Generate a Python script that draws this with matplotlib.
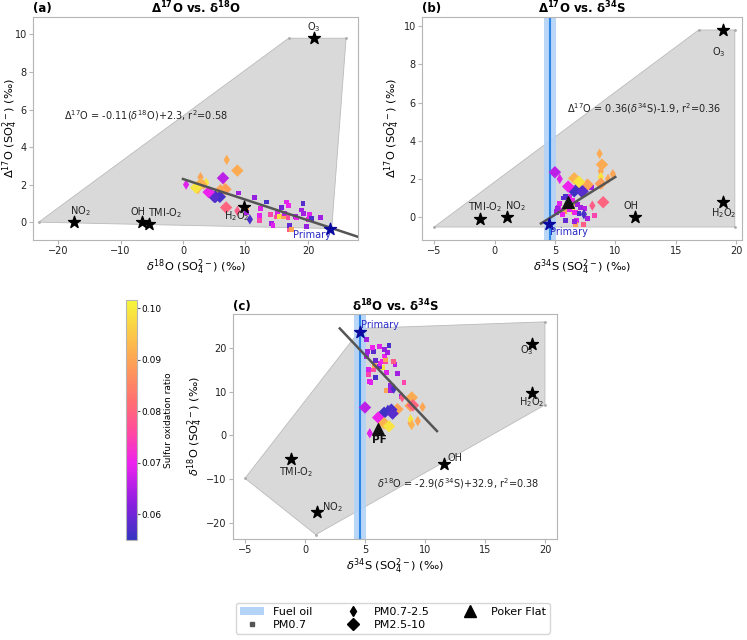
import numpy as np
import matplotlib.pyplot as plt
from matplotlib.colors import LinearSegmentedColormap
from matplotlib.lines import Line2D
from matplotlib.patches import Patch

# PM0.7 samples (squares)
pm07_d34s = [8.0, 6.75, 7.1, 7.1, 5.5, 8.25, 5.4, 5.9, 5.3, 7.7, 6.8, 5.7, 5.3, 6.5, 6.2, 5.8, 7.5,
             6.25, 6.45, 6.7, 7.35, 5.9, 6.7, 5.1, 6.6, 6.9, 5.7, 5.2, 6.6, 5.6, 6.2, 7.0, 5.1]
pm07_d18o = [8.9, 10.2, 10.2, 11.5, 12.2, 12.2, 12.4, 13.3, 14.0, 14.1, 14.4, 15.0, 15.1, 15.5, 15.7, 16.1, 16.3,
             16.5, 16.9, 16.8, 17.0, 17.1, 17.3, 18.0, 18.2, 19.0, 19.2, 19.3, 19.7, 20.1, 20.3, 20.5, 22.0]
pm07_d17o = [1.55, 0.72, 0.50, 1.31, 0.36, 0.10, 0.72, 1.07, 0.43, -0.07, -0.19, 0.28, 0.50, 0.31, 0.77, 0.31, 0.47,
             1.07, 0.90, 0.25, -0.39, -0.19, -0.37, 0.30, 0.22, 0.65, 1.00, 0.48, -0.22, 0.15, 0.40, 0.20, 0.25]
pm07_sor = [0.064, 0.090, 0.064, 0.063, 0.069, 0.075, 0.069, 0.057, 0.075, 0.064, 0.069, 0.076, 0.068, 0.099, 0.060,
            0.090, 0.066, 0.069, 0.070, 0.076, 0.079, 0.059, 0.090, 0.064, 0.070, 0.064, 0.058, 0.064, 0.063, 0.070,
            0.069, 0.057, 0.064]

# PM0.7-2.5 samples (thin diamonds)
pm25_d34s = [8.7, 8.8, 8.8, 9.4, 8.9, 5.4, 8.1, 9.8, 7.4, 6.9]
pm25_d18o = [7.0, 2.8, 3.7, 3.3, 2.4, 0.5, 8.7, 6.5, 10.7, 5.9]
pm25_d17o = [3.32, 2.40, 2.10, 2.00, 1.75, 2.00, 0.60, 2.25, 0.15, 1.66]
pm25_sor = [0.091, 0.090, 0.099, 0.090, 0.092, 0.069, 0.079, 0.090, 0.057, 0.057]

# PM2.5-10 samples (diamonds)
pm10_d34s = [5.0, 8.9, 8.8, 9.0, 7.7, 7.2, 6.6, 7.3, 6.1, 6.6, 7.0]
pm10_d18o = [6.4, 8.7, 6.8, 6.9, 6.0, 5.9, 5.2, 5.0, 4.1, 2.8, 2.1]
pm10_d17o = [2.35, 2.75, 1.75, 0.78, 1.70, 1.35, 1.35, 1.35, 1.60, 2.03, 1.84]
pm10_sor = [0.066, 0.091, 0.089, 0.080, 0.090, 0.057, 0.056, 0.058, 0.070, 0.092, 0.099]

# Poker Flat mean
pf_d34s, pf_d18o, pf_d17o = 6.05, 1.4, 0.8

# oxidant end members
src_names = ['O$_3$', 'H$_2$O$_2$', 'OH', 'NO$_2$', 'TMI-O$_2$']
src_d34s = [18.9, 18.9, 11.6, 1.0, -1.2]
src_d18o = [21.0, 9.8, -6.6, -17.5, -5.5]
src_d17o = [9.8, 0.8, 0.0, 0.0, -0.1]
prim_d34s, prim_d18o, prim_d17o = 4.55, 23.6, -0.35

# fuel oil d34S
fuel_lo, fuel_mid, fuel_hi = 4.1, 4.6, 5.1

# mixing hulls
hull_a_x = [-23.1, 16.9, 26.1, 23.8]
hull_a_y = [0.0, 9.8, 9.8, -0.34]
hull_b_x = [-5.0, 16.9, 19.9, 19.9]
hull_b_y = [-0.52, 9.8, 9.8, -0.52]
hull_c_x = [-5.0, 4.7, 20.0, 20.0, 0.9]
hull_c_y = [-9.8, 24.5, 26.0, 7.0, -22.7]

# regressions (slope, intercept, x range)
fit_a = (-0.11, 2.3, 0.0, 28.0)
fit_b = (0.396, -1.86, 3.85, 10.0)
fit_c = (-2.9, 32.9, 2.9, 11.0)

cmap = LinearSegmentedColormap.from_list(
    'sor', [(0.0, '#3434c0'), (0.15, '#8a20e0'), (0.32, '#ee22ee'), (0.45, '#ff4aa0'),
            (0.58, '#ff7070'), (0.77, '#fdaa52'), (1.0, '#f6f63a')])
vmin, vmax = 0.055, 0.1016

fig = plt.figure(figsize=(7.47, 6.4), dpi=100)
ax_a = fig.add_axes([0.0442, 0.625, 0.435, 0.349])
ax_b = fig.add_axes([0.565, 0.625, 0.4284, 0.349])
ax_c = fig.add_axes([0.3119, 0.1578, 0.4337, 0.3516])
cax = fig.add_axes([0.1687, 0.1562, 0.0147, 0.375])

lab_s = r'$\delta^{34}$S (SO$_4^{2-}$) (‰)'
lab_o18 = r'$\delta^{18}$O (SO$_4^{2-}$) (‰)'
lab_o17 = r'$\Delta^{17}$O (SO$_4^{2-}$) (‰)'
TXT = 7.0


def draw_samples(ax, xs, ys):
    sc = None
    for x, y, c, m, s in [(xs[0], ys[0], pm07_sor, 's', 12),
                          (xs[1], ys[1], pm25_sor, 'd', 28),
                          (xs[2], ys[2], pm10_sor, 'D', 40)]:
        sc = ax.scatter(x, y, c=c, marker=m, s=s, cmap=cmap, vmin=vmin, vmax=vmax,
                        edgecolors='none', zorder=3)
    return sc


def draw_hull(ax, hx, hy):
    ax.fill(hx, hy, facecolor='#d9d9d9', edgecolor='#bbbbbb', lw=0.6, zorder=1)
    ax.plot(hx, hy, ls='none', marker='.', ms=2, color='#aaaaaa', zorder=1)


def draw_sources(ax, xs, ys, px, py, offsets, prim_off):
    for name, x, y, off in zip(src_names, xs, ys, offsets):
        ax.scatter(x, y, marker='*', s=80, color='black', zorder=5)
        ax.annotate(name, (x, y), xytext=off, textcoords='offset pixels',
                    ha='center', va='center', fontsize=TXT, color='#222222', zorder=6)
    ax.scatter(px, py, marker='*', s=80, color='#0a0aa0', zorder=5)
    ax.annotate('Primary', (px, py), xytext=prim_off, textcoords='offset pixels',
                ha='center', va='center', fontsize=TXT, color='#2a2ac8', zorder=6)


def fit_line(ax, fit):
    m, b, x0, x1 = fit
    xx = np.array([x0, x1])
    ax.plot(xx, m * xx + b, color='#555555', lw=1.8, zorder=4)


def style(ax, title, tag, xlabel, ylabel):
    for sp in ax.spines.values():
        sp.set_color('#b5b5b5')
    ax.tick_params(labelsize=7, color='#b5b5b5', labelcolor='#222222', length=3, pad=1.5)
    ax.set_xlabel(xlabel, fontsize=8.2, labelpad=1)
    ax.set_ylabel(ylabel, fontsize=8.2, labelpad=1)
    ax.set_title(title, fontsize=8.5, fontweight='bold', pad=1)
    ax.text(0.0, 1.006, tag, transform=ax.transAxes, fontsize=8.5, fontweight='bold', va='bottom')


# (a) D17O vs d18O
draw_hull(ax_a, hull_a_x, hull_a_y)
draw_samples(ax_a, [pm07_d18o, pm25_d18o, pm10_d18o], [pm07_d17o, pm25_d17o, pm10_d17o])
fit_line(ax_a, fit_a)
draw_sources(ax_a, src_d18o, src_d17o, prim_d18o, prim_d17o,
             [(0, 11), (-8, -9), (-4, 10), (7, 11), (16, 11)], (-19, -6))
ax_a.text(-19, 5.7, r'$\Delta^{17}$O = -0.11($\delta^{18}$O)+2.3, r$^2$=0.58',
          fontsize=TXT, va='center', color='#222222')
ax_a.set_xlim(-24, 28)
ax_a.set_ylim(-0.95, 10.95)
ax_a.set_xticks([-20, -10, 0, 10, 20])
ax_a.set_yticks([0, 2, 4, 6, 8, 10])
style(ax_a, r'$\mathbf{\Delta^{17}O}$ vs. $\mathbf{\delta^{18}O}$', '(a)', lab_o18, lab_o17)
ax_a.yaxis.set_label_coords(-0.04, 0.5)

# (b) D17O vs d34S
draw_hull(ax_b, hull_b_x, hull_b_y)
ax_b.axvspan(fuel_lo, fuel_hi, color='#b3d3f7', alpha=0.9, zorder=2, lw=0)
ax_b.axvline(fuel_mid, color='#2b86e6', lw=1.5, zorder=2)
draw_samples(ax_b, [pm07_d34s, pm25_d34s, pm10_d34s], [pm07_d17o, pm25_d17o, pm10_d17o])
fit_line(ax_b, fit_b)
ax_b.scatter(pf_d34s, pf_d17o, marker='^', s=70, color='#111111', zorder=5)
draw_sources(ax_b, src_d34s, src_d17o, prim_d34s, prim_d17o,
             [(-4, -22), (1, -11), (-4, 11), (9, 11), (5, 12)], (19, -8))
ax_b.text(6, 5.7, r'$\Delta^{17}$O = 0.36($\delta^{34}$S)-1.9, r$^2$=0.36',
          fontsize=TXT, va='center', color='#222222')
ax_b.set_xlim(-6, 20.5)
ax_b.set_ylim(-1.2, 10.5)
ax_b.set_xticks([-5, 0, 5, 10, 15, 20])
ax_b.set_yticks([0, 2, 4, 6, 8, 10])
style(ax_b, r'$\mathbf{\Delta^{17}O}$ vs. $\mathbf{\delta^{34}S}$', '(b)', lab_s, lab_o17)

# (c) d18O vs d34S
draw_hull(ax_c, hull_c_x, hull_c_y)
ax_c.axvspan(fuel_lo, fuel_hi, color='#b3d3f7', alpha=0.9, zorder=2, lw=0)
ax_c.axvline(fuel_mid, color='#2b86e6', lw=1.5, zorder=2)
sc = draw_samples(ax_c, [pm07_d34s, pm25_d34s, pm10_d34s], [pm07_d18o, pm25_d18o, pm10_d18o])
fit_line(ax_c, fit_c)
ax_c.scatter(pf_d34s, pf_d18o, marker='^', s=70, color='#111111', zorder=5)
ax_c.annotate('PF', (pf_d34s, pf_d18o), xytext=(2, -11), textcoords='offset pixels',
              ha='center', va='center', fontsize=7.5, fontweight='bold', color='#111111', zorder=6)
draw_sources(ax_c, src_d34s, src_d18o, prim_d34s, prim_d18o,
             [(-5, -6), (0, -9), (11, 6), (15, 5), (5, -13)], (20, 7))
ax_c.text(6, -11.1, r'$\delta^{18}$O = -2.9($\delta^{34}$S)+32.9, r$^2$=0.38',
          fontsize=TXT, va='center', color='#222222')
ax_c.set_xlim(-6, 21)
ax_c.set_ylim(-23.7, 27.8)
ax_c.set_xticks([-5, 0, 5, 10, 15, 20])
ax_c.set_yticks([-20, -10, 0, 10, 20])
style(ax_c, r'$\mathbf{\delta^{18}O}$ vs. $\mathbf{\delta^{34}S}$', '(c)', lab_s, lab_o18)

cb = fig.colorbar(sc, cax=cax)
cb.set_ticks([0.06, 0.07, 0.08, 0.09, 0.10])
cb.ax.tick_params(labelsize=6.5, length=2, color='#555555', pad=1)
cb.set_label('Sulfur oxidation ratio', fontsize=6.5, labelpad=2)
cb.outline.set_edgecolor('#b5b5b5')

handles = [Patch(facecolor='#b3d3f7', edgecolor='none', label='Fuel oil'),
           Line2D([], [], ls='none', marker='s', ms=3.5, color='#555555', label='PM0.7'),
           Line2D([], [], ls='none', marker='d', ms=5, color='black', label='PM0.7-2.5'),
           Line2D([], [], ls='none', marker='D', ms=6, color='black', label='PM2.5-10'),
           Line2D([], [], ls='none', marker='^', ms=8, color='black', label='Poker Flat')]
fig.legend(handles=handles, loc='center', bbox_to_anchor=(0.526, 0.034), ncol=3,
           fontsize=8, frameon=True, handlelength=2.2, columnspacing=2.5, borderpad=0.35,
           labelspacing=0.25)

fig.savefig('out.png', dpi=100)
